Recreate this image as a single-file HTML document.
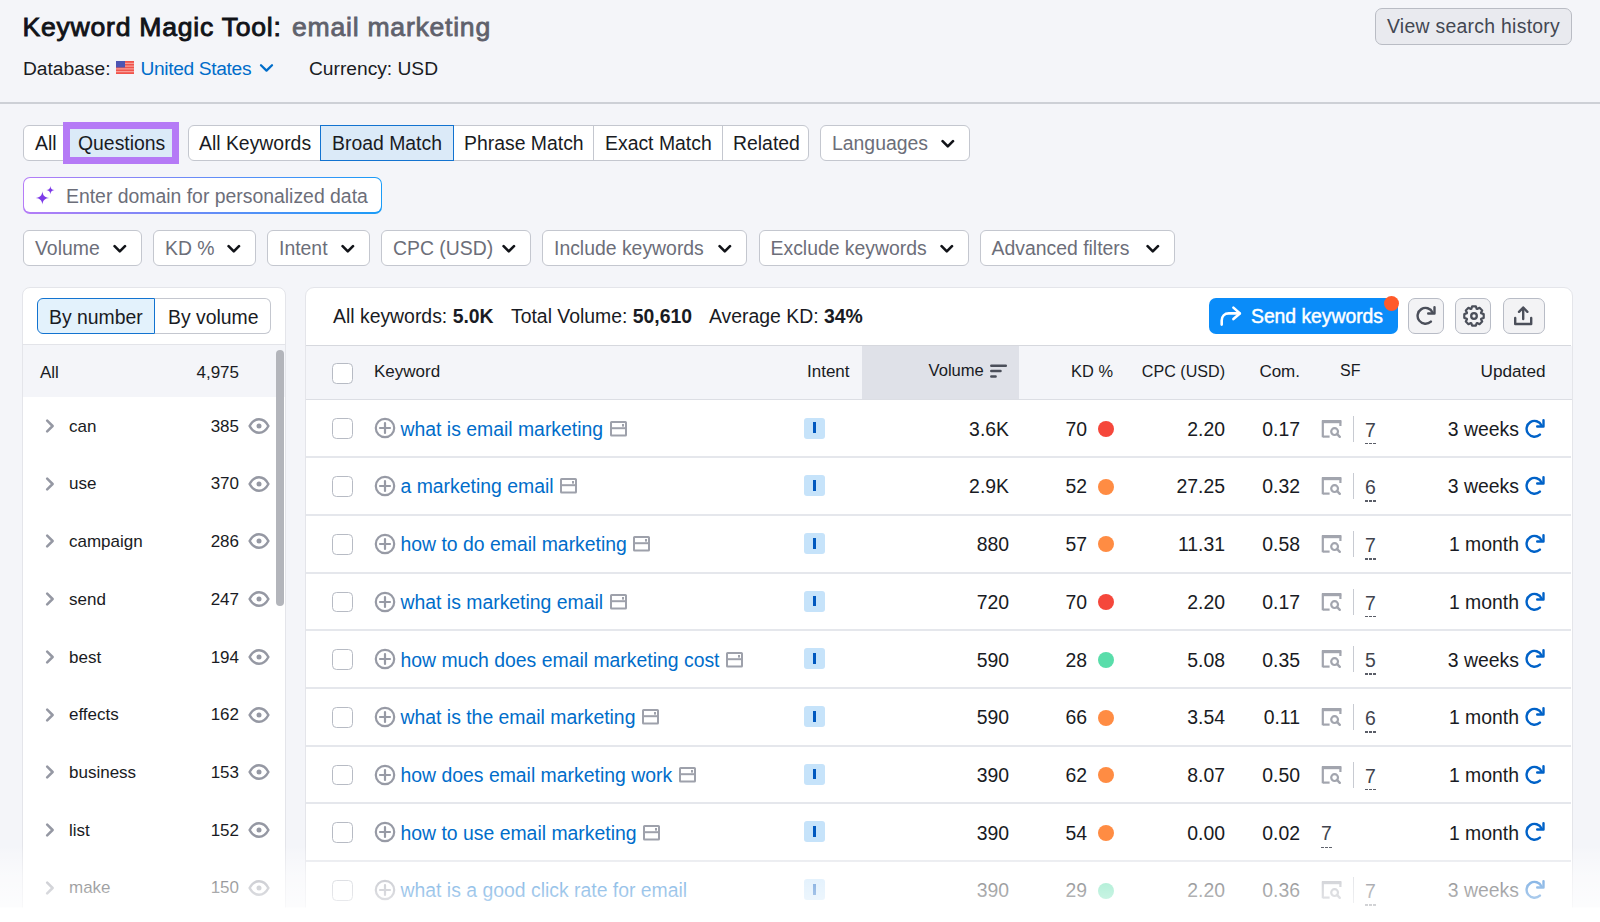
<!DOCTYPE html>
<html><head><meta charset="utf-8">
<style>
*{box-sizing:border-box;margin:0;padding:0}
html,body{width:1600px;height:922px;overflow:hidden;background:#f4f5f9;font-family:"Liberation Sans",sans-serif;color:#191b23}
.abs{position:absolute}
.t{position:absolute;white-space:nowrap;line-height:1}
.btn{position:absolute;border:1px solid #c4c7cf;background:#fff;border-radius:6px}
.fb{position:absolute;height:36px;border:1px solid #c4c7cf;background:#fff;border-radius:6px;color:#6c6e79;font-size:19.4px}
.fb span{position:absolute;left:11px;top:7px;line-height:20px;white-space:nowrap}
.fb svg{position:absolute;top:13px;right:14px}
</style></head>
<body>

<div class="t" style="left:22.5px;top:14px;font-size:26.6px;color:#111318;letter-spacing:0.75px;-webkit-text-stroke:0.9px #111318">Keyword Magic Tool:</div>
<div class="t" style="left:292px;top:14px;font-size:26.6px;color:#5f616c;letter-spacing:0.75px;-webkit-text-stroke:0.8px #5f616c">email marketing</div>
<div class="t" style="left:23px;top:59px;font-size:19.2px;">Database:</div>
<svg class="abs" style="left:116px;top:61px" width="18" height="13" viewBox="0 0 18 13">
<rect width="18" height="13" fill="#f0544c"/>
<rect y="1.8" width="18" height="1" fill="#fab0ab"/><rect y="4.6" width="18" height="1" fill="#fab0ab"/><rect y="7.4" width="18" height="1" fill="#fab0ab"/><rect y="10.2" width="18" height="1" fill="#fab0ab"/>
<rect width="9" height="6.5" fill="#4d55b3"/>
</svg>
<div class="t" style="left:140.5px;top:59px;font-size:19.2px;color:#006dca;letter-spacing:-0.35px">United States</div>
<svg class="abs" style="left:259px;top:63px" width="15" height="10" viewBox="0 0 15 10"><path d="M2 2.2 L7.5 7.6 L13 2.2" fill="none" stroke="#006dca" stroke-width="2.3" stroke-linecap="round" stroke-linejoin="round"/></svg>
<div class="t" style="left:309px;top:59px;font-size:19.2px;">Currency: USD</div>
<div class="abs" style="left:1375px;top:8px;width:197px;height:37px;border:1px solid #b9bcc4;border-radius:7px;background:#e9eaef"></div>
<div class="t" style="left:1387px;top:17px;font-size:19.4px;color:#434752;letter-spacing:0.28px">View search history</div>
<div class="abs" style="left:0;top:102px;width:1600px;height:2px;background:#cdd0d6"></div>
<div class="btn" style="left:23px;top:125px;width:150px;height:36px"></div>
<div class="t" style="left:35px;top:134.4px;font-size:19.4px;">All</div>
<div class="abs" style="left:63px;top:121.5px;width:116px;height:42px;border:7px solid #b57af6;background:#dbeaf8"></div>
<div class="t" style="left:78px;top:134.4px;font-size:19.4px;">Questions</div>
<div class="btn" style="left:187.5px;top:125px;width:621.5px;height:36px"></div>
<div class="t" style="left:199px;top:134.4px;font-size:19.4px;">All Keywords</div>
<div class="abs" style="left:320.3px;top:125px;width:133.6px;height:36px;border:1.5px solid #1273d0;background:#dbeaf8"></div>
<div class="t" style="left:332px;top:134.4px;font-size:19.4px;">Broad Match</div>
<div class="t" style="left:464px;top:134.4px;font-size:19.4px;">Phrase Match</div>
<div class="abs" style="left:593px;top:125px;width:1px;height:36px;background:#c4c7cf"></div>
<div class="t" style="left:605px;top:134.4px;font-size:19.4px;">Exact Match</div>
<div class="abs" style="left:722px;top:125px;width:1px;height:36px;background:#c4c7cf"></div>
<div class="t" style="left:733px;top:134.4px;font-size:19.4px;">Related</div>
<div class="fb" style="left:820px;top:125px;width:149.5px"><span>Languages</span><svg width="14" height="10" viewBox="0 0 14 10"><path d="M1.6 2.2 L6.8 7.4 L12 2.2" fill="none" stroke="#111318" stroke-width="2.6" stroke-linecap="round" stroke-linejoin="round"/></svg></div>
<div class="abs" style="left:23px;top:177px;width:359px;height:36.5px;border-radius:7px;background:linear-gradient(90deg,#b57cf7,#1a9cf7);padding:1.3px">
<div style="width:100%;height:100%;background:#fff;border-radius:6px"></div></div>
<svg class="abs" style="left:30px;top:180px" width="32" height="32" viewBox="0 0 32 32"><path d="M12.40,11.20 C12.80,15.49 14.81,17.50 19.10,17.90 C14.81,18.30 12.80,20.31 12.40,24.60 C12.00,20.31 9.99,18.30 5.70,17.90 C9.99,17.50 12.00,15.49 12.40,11.20Z M20.40,6.00 C20.65,8.62 21.88,9.85 24.50,10.10 C21.88,10.35 20.65,11.58 20.40,14.20 C20.15,11.58 18.92,10.35 16.30,10.10 C18.92,9.85 20.15,8.62 20.40,6.00Z" fill="#7d3ae8"/></svg>
<div class="t" style="left:66px;top:187px;font-size:19.4px;color:#6c6e79;">Enter domain for personalized data</div>
<div class="fb" style="left:23px;top:230px;width:118.6px"><span>Volume</span><svg width="14" height="10" viewBox="0 0 14 10"><path d="M1.6 2.2 L6.8 7.4 L12 2.2" fill="none" stroke="#111318" stroke-width="2.6" stroke-linecap="round" stroke-linejoin="round"/></svg></div>
<div class="fb" style="left:153px;top:230px;width:102.6px"><span>KD %</span><svg width="14" height="10" viewBox="0 0 14 10"><path d="M1.6 2.2 L6.8 7.4 L12 2.2" fill="none" stroke="#111318" stroke-width="2.6" stroke-linecap="round" stroke-linejoin="round"/></svg></div>
<div class="fb" style="left:267px;top:230px;width:103.1px"><span>Intent</span><svg width="14" height="10" viewBox="0 0 14 10"><path d="M1.6 2.2 L6.8 7.4 L12 2.2" fill="none" stroke="#111318" stroke-width="2.6" stroke-linecap="round" stroke-linejoin="round"/></svg></div>
<div class="fb" style="left:381px;top:230px;width:149.8px"><span>CPC (USD)</span><svg width="14" height="10" viewBox="0 0 14 10"><path d="M1.6 2.2 L6.8 7.4 L12 2.2" fill="none" stroke="#111318" stroke-width="2.6" stroke-linecap="round" stroke-linejoin="round"/></svg></div>
<div class="fb" style="left:542px;top:230px;width:205.4px"><span>Include keywords</span><svg width="14" height="10" viewBox="0 0 14 10"><path d="M1.6 2.2 L6.8 7.4 L12 2.2" fill="none" stroke="#111318" stroke-width="2.6" stroke-linecap="round" stroke-linejoin="round"/></svg></div>
<div class="fb" style="left:758.5px;top:230px;width:210.1px"><span>Exclude keywords</span><svg width="14" height="10" viewBox="0 0 14 10"><path d="M1.6 2.2 L6.8 7.4 L12 2.2" fill="none" stroke="#111318" stroke-width="2.6" stroke-linecap="round" stroke-linejoin="round"/></svg></div>
<div class="fb" style="left:979.5px;top:230px;width:195px"><span>Advanced filters</span><svg width="14" height="10" viewBox="0 0 14 10"><path d="M1.6 2.2 L6.8 7.4 L12 2.2" fill="none" stroke="#111318" stroke-width="2.6" stroke-linecap="round" stroke-linejoin="round"/></svg></div>
<div class="abs" style="left:22px;top:286.5px;width:263.5px;height:700px;background:#fff;border:1px solid #e4e5ea;border-radius:8px;overflow:hidden"></div>
<div class="abs" style="left:155px;top:298px;width:116px;height:36px;border:1px solid #c4c7cf;border-left:none;border-radius:0 6px 6px 0;background:#fff"></div>
<div class="abs" style="left:37px;top:298px;width:118px;height:36px;border:1.5px solid #1273d0;border-radius:6px 0 0 6px;background:#e3f2fc"></div>
<div class="t" style="left:49px;top:308px;font-size:19.4px;">By number</div>
<div class="t" style="left:168px;top:308px;font-size:19.4px;">By volume</div>
<div class="abs" style="left:23px;top:344px;width:262px;height:1px;background:#e3e4e9"></div>
<div class="abs" style="left:23px;top:345px;width:262px;height:52px;background:#f4f5f9"></div>
<div class="t" style="left:40px;top:364px;font-size:17px;">All</div>
<div class="t" style="right:1361px;top:364px;font-size:17px;">4,975</div>
<div class="abs" style="left:276px;top:350px;width:7.5px;height:256px;background:#b3b5bb;border-radius:4px"></div>
<div class="abs" style="left:45px;top:419.0px"><svg width="10" height="14" viewBox="0 0 10 14"><path d="M2.2 1.6 L7.6 7 L2.2 12.4" fill="none" stroke="#9598a3" stroke-width="2.5" stroke-linecap="round" stroke-linejoin="round"/></svg></div>
<div class="t" style="left:69px;top:417.7px;font-size:17px;">can</div>
<div class="t" style="right:1361px;top:417.7px;font-size:17px;">385</div>
<div class="abs" style="left:248px;top:418.0px"><svg width="22" height="16" viewBox="0 0 22 16"><path d="M1.6 8 C4 3.4 7.3 1.3 11 1.3 C14.7 1.3 18 3.4 20.4 8 C18 12.6 14.7 14.7 11 14.7 C7.3 14.7 4 12.6 1.6 8Z" fill="none" stroke="#9598a3" stroke-width="2.4"/><circle cx="11" cy="8" r="2.5" fill="#9598a3"/></svg></div>
<div class="abs" style="left:45px;top:476.7px"><svg width="10" height="14" viewBox="0 0 10 14"><path d="M2.2 1.6 L7.6 7 L2.2 12.4" fill="none" stroke="#9598a3" stroke-width="2.5" stroke-linecap="round" stroke-linejoin="round"/></svg></div>
<div class="t" style="left:69px;top:475.4px;font-size:17px;">use</div>
<div class="t" style="right:1361px;top:475.4px;font-size:17px;">370</div>
<div class="abs" style="left:248px;top:475.7px"><svg width="22" height="16" viewBox="0 0 22 16"><path d="M1.6 8 C4 3.4 7.3 1.3 11 1.3 C14.7 1.3 18 3.4 20.4 8 C18 12.6 14.7 14.7 11 14.7 C7.3 14.7 4 12.6 1.6 8Z" fill="none" stroke="#9598a3" stroke-width="2.4"/><circle cx="11" cy="8" r="2.5" fill="#9598a3"/></svg></div>
<div class="abs" style="left:45px;top:534.4px"><svg width="10" height="14" viewBox="0 0 10 14"><path d="M2.2 1.6 L7.6 7 L2.2 12.4" fill="none" stroke="#9598a3" stroke-width="2.5" stroke-linecap="round" stroke-linejoin="round"/></svg></div>
<div class="t" style="left:69px;top:533.1px;font-size:17px;">campaign</div>
<div class="t" style="right:1361px;top:533.1px;font-size:17px;">286</div>
<div class="abs" style="left:248px;top:533.4px"><svg width="22" height="16" viewBox="0 0 22 16"><path d="M1.6 8 C4 3.4 7.3 1.3 11 1.3 C14.7 1.3 18 3.4 20.4 8 C18 12.6 14.7 14.7 11 14.7 C7.3 14.7 4 12.6 1.6 8Z" fill="none" stroke="#9598a3" stroke-width="2.4"/><circle cx="11" cy="8" r="2.5" fill="#9598a3"/></svg></div>
<div class="abs" style="left:45px;top:592.1px"><svg width="10" height="14" viewBox="0 0 10 14"><path d="M2.2 1.6 L7.6 7 L2.2 12.4" fill="none" stroke="#9598a3" stroke-width="2.5" stroke-linecap="round" stroke-linejoin="round"/></svg></div>
<div class="t" style="left:69px;top:590.8px;font-size:17px;">send</div>
<div class="t" style="right:1361px;top:590.8px;font-size:17px;">247</div>
<div class="abs" style="left:248px;top:591.1px"><svg width="22" height="16" viewBox="0 0 22 16"><path d="M1.6 8 C4 3.4 7.3 1.3 11 1.3 C14.7 1.3 18 3.4 20.4 8 C18 12.6 14.7 14.7 11 14.7 C7.3 14.7 4 12.6 1.6 8Z" fill="none" stroke="#9598a3" stroke-width="2.4"/><circle cx="11" cy="8" r="2.5" fill="#9598a3"/></svg></div>
<div class="abs" style="left:45px;top:649.8px"><svg width="10" height="14" viewBox="0 0 10 14"><path d="M2.2 1.6 L7.6 7 L2.2 12.4" fill="none" stroke="#9598a3" stroke-width="2.5" stroke-linecap="round" stroke-linejoin="round"/></svg></div>
<div class="t" style="left:69px;top:648.5px;font-size:17px;">best</div>
<div class="t" style="right:1361px;top:648.5px;font-size:17px;">194</div>
<div class="abs" style="left:248px;top:648.8px"><svg width="22" height="16" viewBox="0 0 22 16"><path d="M1.6 8 C4 3.4 7.3 1.3 11 1.3 C14.7 1.3 18 3.4 20.4 8 C18 12.6 14.7 14.7 11 14.7 C7.3 14.7 4 12.6 1.6 8Z" fill="none" stroke="#9598a3" stroke-width="2.4"/><circle cx="11" cy="8" r="2.5" fill="#9598a3"/></svg></div>
<div class="abs" style="left:45px;top:707.5px"><svg width="10" height="14" viewBox="0 0 10 14"><path d="M2.2 1.6 L7.6 7 L2.2 12.4" fill="none" stroke="#9598a3" stroke-width="2.5" stroke-linecap="round" stroke-linejoin="round"/></svg></div>
<div class="t" style="left:69px;top:706.2px;font-size:17px;">effects</div>
<div class="t" style="right:1361px;top:706.2px;font-size:17px;">162</div>
<div class="abs" style="left:248px;top:706.5px"><svg width="22" height="16" viewBox="0 0 22 16"><path d="M1.6 8 C4 3.4 7.3 1.3 11 1.3 C14.7 1.3 18 3.4 20.4 8 C18 12.6 14.7 14.7 11 14.7 C7.3 14.7 4 12.6 1.6 8Z" fill="none" stroke="#9598a3" stroke-width="2.4"/><circle cx="11" cy="8" r="2.5" fill="#9598a3"/></svg></div>
<div class="abs" style="left:45px;top:765.2px"><svg width="10" height="14" viewBox="0 0 10 14"><path d="M2.2 1.6 L7.6 7 L2.2 12.4" fill="none" stroke="#9598a3" stroke-width="2.5" stroke-linecap="round" stroke-linejoin="round"/></svg></div>
<div class="t" style="left:69px;top:763.9px;font-size:17px;">business</div>
<div class="t" style="right:1361px;top:763.9px;font-size:17px;">153</div>
<div class="abs" style="left:248px;top:764.2px"><svg width="22" height="16" viewBox="0 0 22 16"><path d="M1.6 8 C4 3.4 7.3 1.3 11 1.3 C14.7 1.3 18 3.4 20.4 8 C18 12.6 14.7 14.7 11 14.7 C7.3 14.7 4 12.6 1.6 8Z" fill="none" stroke="#9598a3" stroke-width="2.4"/><circle cx="11" cy="8" r="2.5" fill="#9598a3"/></svg></div>
<div class="abs" style="left:45px;top:822.9px"><svg width="10" height="14" viewBox="0 0 10 14"><path d="M2.2 1.6 L7.6 7 L2.2 12.4" fill="none" stroke="#9598a3" stroke-width="2.5" stroke-linecap="round" stroke-linejoin="round"/></svg></div>
<div class="t" style="left:69px;top:821.6px;font-size:17px;">list</div>
<div class="t" style="right:1361px;top:821.6px;font-size:17px;">152</div>
<div class="abs" style="left:248px;top:821.9px"><svg width="22" height="16" viewBox="0 0 22 16"><path d="M1.6 8 C4 3.4 7.3 1.3 11 1.3 C14.7 1.3 18 3.4 20.4 8 C18 12.6 14.7 14.7 11 14.7 C7.3 14.7 4 12.6 1.6 8Z" fill="none" stroke="#9598a3" stroke-width="2.4"/><circle cx="11" cy="8" r="2.5" fill="#9598a3"/></svg></div>
<div class="abs" style="left:45px;top:880.6px"><svg width="10" height="14" viewBox="0 0 10 14"><path d="M2.2 1.6 L7.6 7 L2.2 12.4" fill="none" stroke="#9598a3" stroke-width="2.5" stroke-linecap="round" stroke-linejoin="round"/></svg></div>
<div class="t" style="left:69px;top:879.3px;font-size:17px;">make</div>
<div class="t" style="right:1361px;top:879.3px;font-size:17px;">150</div>
<div class="abs" style="left:248px;top:879.6px"><svg width="22" height="16" viewBox="0 0 22 16"><path d="M1.6 8 C4 3.4 7.3 1.3 11 1.3 C14.7 1.3 18 3.4 20.4 8 C18 12.6 14.7 14.7 11 14.7 C7.3 14.7 4 12.6 1.6 8Z" fill="none" stroke="#9598a3" stroke-width="2.4"/><circle cx="11" cy="8" r="2.5" fill="#9598a3"/></svg></div>
<div class="abs" style="left:305px;top:286.5px;width:1267.5px;height:700px;background:#fff;border:1px solid #e4e5ea;border-radius:9px;overflow:hidden"></div>
<div class="t" style="left:333px;top:307px;font-size:19.4px;">All keywords: <b>5.0K</b></div>
<div class="t" style="left:511px;top:307px;font-size:19.4px;">Total Volume: <b>50,610</b></div>
<div class="t" style="left:709px;top:307px;font-size:19.4px;">Average KD: <b>34%</b></div>
<div class="abs" style="left:1209px;top:298px;width:188.5px;height:36px;background:#0a8cf9;border-radius:7px"></div>
<svg class="abs" style="left:1218px;top:302px" width="26" height="26" viewBox="0 0 26 26"><path d="M3.7 22.6 V18.5 C3.7 14.2 6.6 11.4 10.8 11.4 H21.5" fill="none" stroke="#fff" stroke-width="2.6" stroke-linecap="round"/><path d="M15.4 5.6 L21.9 11.4 L15.4 17.1" fill="none" stroke="#fff" stroke-width="2.6" stroke-linecap="round" stroke-linejoin="round"/></svg>
<div class="t" style="left:1251px;top:307px;font-size:19.4px;color:#fff;letter-spacing:-0.05px;-webkit-text-stroke:0.45px #fff">Send keywords</div>
<div class="abs" style="left:1384px;top:295.5px;width:15px;height:15px;border-radius:50%;background:#ff5a2a"></div>
<div class="abs" style="left:1408px;top:298px;width:36px;height:36px;border:1px solid #b8bcc6;border-radius:7px;background:#f3f3f5"></div>
<div class="abs" style="left:1455px;top:298px;width:36px;height:36px;border:1px solid #b8bcc6;border-radius:7px;background:#f3f3f5"></div>
<div class="abs" style="left:1502.5px;top:298px;width:42.5px;height:36px;border:1px solid #b8bcc6;border-radius:7px;background:#f3f3f5"></div>
<svg class="abs" style="left:1416.3px;top:305.7px" width="20" height="21" viewBox="0 0 20 21"><path d="M14.9 15.6 A7.9 7.9 0 1 1 16.6 6.4" fill="none" stroke="#4b4f5a" stroke-width="2.4" stroke-linecap="round"/><path d="M18.5 1.3 V7.5 H12.2" fill="none" stroke="#4b4f5a" stroke-width="2.4" stroke-linecap="round" stroke-linejoin="round"/></svg>
<svg class="abs" style="left:1461.5px;top:304px" width="24" height="24" viewBox="0 0 24 24"><polygon points="10.13,2.28 13.87,2.28 14.71,4.79 15.18,4.99 17.55,3.80 20.20,6.45 19.01,8.82 19.21,9.29 21.72,10.13 21.72,13.87 19.21,14.71 19.01,15.18 20.20,17.55 17.55,20.20 15.18,19.01 14.71,19.21 13.87,21.72 10.13,21.72 9.29,19.21 8.82,19.01 6.45,20.20 3.80,17.55 4.99,15.18 4.79,14.71 2.28,13.87 2.28,10.13 4.79,9.29 4.99,8.82 3.80,6.45 6.45,3.80 8.82,4.99 9.29,4.79" fill="none" stroke="#4b4f5a" stroke-width="2.2" stroke-linejoin="round"/><circle cx="12" cy="12" r="2.8" fill="none" stroke="#4b4f5a" stroke-width="2.3"/></svg>
<svg class="abs" style="left:1512px;top:304px" width="24" height="24" viewBox="0 0 24 24"><path d="M11.2 15 V4" fill="none" stroke="#4b4f5a" stroke-width="2.4" stroke-linecap="round"/><path d="M7 7.8 L11.2 3.6 L15.4 7.8" fill="none" stroke="#4b4f5a" stroke-width="2.4" stroke-linecap="round" stroke-linejoin="round"/><path d="M3.2 14 V20 H19.2 V14" fill="none" stroke="#4b4f5a" stroke-width="2.4" stroke-linecap="round" stroke-linejoin="round"/></svg>
<div class="abs" style="left:306px;top:345px;width:1265px;height:1px;background:#d6d8de"></div>
<div class="abs" style="left:306px;top:346px;width:1266px;height:54px;background:#f4f5f9;border-bottom:1.2px solid #dcdee4"></div>
<div class="abs" style="left:862.3px;top:346px;width:157px;height:52.8px;background:#dfe1e8"></div>
<div class="abs" style="left:332.2px;top:363.2px;width:20.8px;height:20.8px;border:1.6px solid #b7bbc4;border-radius:4.5px;background:#fff"></div>
<div class="t" style="left:374px;top:363px;font-size:17px;">Keyword</div>
<div class="t" style="left:807px;top:363px;font-size:17px;">Intent</div>
<div class="t" style="left:928.5px;top:363px;font-size:16.6px;">Volume</div>
<svg class="abs" style="left:989px;top:363px" width="19" height="16" viewBox="0 0 19 16"><path d="M2.3 2.8 H16.8 M2.3 8.1 H11.5 M2.3 13.4 H6.6" fill="none" stroke="#4b4f5a" stroke-width="2.5" stroke-linecap="round"/></svg>
<div class="t" style="right:487px;top:363px;font-size:16.4px;">KD %</div>
<div class="t" style="right:375px;top:363px;font-size:16.1px;">CPC (USD)</div>
<div class="t" style="right:300px;top:363px;font-size:17px;">Com.</div>
<div class="t" style="left:1340px;top:363px;font-size:16px;">SF</div>
<div class="t" style="right:54.5px;top:363px;font-size:17.2px;">Updated</div>
<div class="abs" style="left:306px;top:456px;width:1265px;height:2px;background:#e5e7ec"></div>
<div class="abs" style="left:332.2px;top:418.4px;width:20.8px;height:20.8px;border:1.6px solid #b7bbc4;border-radius:4.5px;background:#fff"></div>
<div class="abs" style="left:373.6px;top:417.4px"><svg width="22" height="22" viewBox="0 0 22 22"><circle cx="11" cy="11" r="9.2" fill="none" stroke="#979aa5" stroke-width="2.2"/><path d="M11 6 V16 M6 11 H16" fill="none" stroke="#979aa5" stroke-width="2.2" stroke-linecap="round"/></svg></div>
<div class="t" style="left:400.5px;top:419.7px;font-size:19.4px;color:#006dca;">what is email marketing<span style="display:inline-block;margin-left:6.5px;vertical-align:-1px"><svg width="18" height="16" viewBox="0 0 18 16"><rect x="1" y="1" width="15" height="13.6" rx="0.6" fill="none" stroke="#9ea1ab" stroke-width="2"/><path d="M1 7.2 H16" stroke="#9ea1ab" stroke-width="2"/><rect x="12" y="3" width="2" height="2.6" fill="#9ea1ab"/></svg></span></div>
<div class="abs" style="left:804px;top:417.5px;width:21px;height:21px;border-radius:3px;background:#c6e3fa"></div>
<div class="abs" style="left:813.4px;top:422.4px;width:2.5px;height:10.8px;background:#0058bf"></div>
<div class="t" style="right:591px;top:419.7px;font-size:19.4px;">3.6K</div>
<div class="t" style="right:513px;top:419.7px;font-size:19.4px;">70</div>
<div class="abs" style="left:1097.8px;top:421.0px;width:16px;height:16px;border-radius:50%;background:#f5473b"></div>
<div class="t" style="right:375px;top:419.7px;font-size:19.4px;">2.20</div>
<div class="t" style="right:300px;top:419.7px;font-size:19.4px;">0.17</div>
<div class="abs" style="left:1320.5px;top:419.5px"><svg width="22" height="19" viewBox="0 0 22 19"><path d="M1.8 17.2 V1.6 H19.4 V6" fill="none" stroke="#a2a5ae" stroke-width="2.2"/><path d="M1 1.6 H20.2" stroke="#a2a5ae" stroke-width="3.2"/><path d="M1.8 16.6 H8.6" stroke="#a2a5ae" stroke-width="2.2"/><circle cx="13.6" cy="11.6" r="3.4" fill="none" stroke="#a2a5ae" stroke-width="2.2"/><path d="M16.2 14.2 L18.8 16.8" stroke="#a2a5ae" stroke-width="2.4" stroke-linecap="round"/></svg></div>
<div class="abs" style="left:1352.5px;top:415.5px;width:1.6px;height:26px;background:#c8cbd2"></div>
<div class="t" style="left:1365px;top:420.5px;font-size:19.4px;color:#41444e;">7</div>
<div class="abs" style="left:1364.5px;top:442.6px;width:11px;height:1.6px;background:repeating-linear-gradient(90deg,#5a5d67 0 2.6px,transparent 2.6px 4.2px)"></div>
<div class="t" style="right:81px;top:419.7px;font-size:19.4px;">3 weeks</div>
<div class="abs" style="left:1525px;top:418.5px"><svg width="20" height="21" viewBox="0 0 20 21"><path d="M14.9 15.6 A7.9 7.9 0 1 1 16.6 6.4" fill="none" stroke="#0062c8" stroke-width="2.4" stroke-linecap="round"/><path d="M18.5 1.3 V7.5 H12.2" fill="none" stroke="#0062c8" stroke-width="2.4" stroke-linecap="round" stroke-linejoin="round"/></svg></div>
<div class="abs" style="left:306px;top:514px;width:1265px;height:2px;background:#e5e7ec"></div>
<div class="abs" style="left:332.2px;top:476.1px;width:20.8px;height:20.8px;border:1.6px solid #b7bbc4;border-radius:4.5px;background:#fff"></div>
<div class="abs" style="left:373.6px;top:475.1px"><svg width="22" height="22" viewBox="0 0 22 22"><circle cx="11" cy="11" r="9.2" fill="none" stroke="#979aa5" stroke-width="2.2"/><path d="M11 6 V16 M6 11 H16" fill="none" stroke="#979aa5" stroke-width="2.2" stroke-linecap="round"/></svg></div>
<div class="t" style="left:400.5px;top:477.4px;font-size:19.4px;color:#006dca;">a marketing email<span style="display:inline-block;margin-left:6.5px;vertical-align:-1px"><svg width="18" height="16" viewBox="0 0 18 16"><rect x="1" y="1" width="15" height="13.6" rx="0.6" fill="none" stroke="#9ea1ab" stroke-width="2"/><path d="M1 7.2 H16" stroke="#9ea1ab" stroke-width="2"/><rect x="12" y="3" width="2" height="2.6" fill="#9ea1ab"/></svg></span></div>
<div class="abs" style="left:804px;top:475.2px;width:21px;height:21px;border-radius:3px;background:#c6e3fa"></div>
<div class="abs" style="left:813.4px;top:480.1px;width:2.5px;height:10.8px;background:#0058bf"></div>
<div class="t" style="right:591px;top:477.4px;font-size:19.4px;">2.9K</div>
<div class="t" style="right:513px;top:477.4px;font-size:19.4px;">52</div>
<div class="abs" style="left:1097.8px;top:478.7px;width:16px;height:16px;border-radius:50%;background:#ff8c43"></div>
<div class="t" style="right:375px;top:477.4px;font-size:19.4px;">27.25</div>
<div class="t" style="right:300px;top:477.4px;font-size:19.4px;">0.32</div>
<div class="abs" style="left:1320.5px;top:477.2px"><svg width="22" height="19" viewBox="0 0 22 19"><path d="M1.8 17.2 V1.6 H19.4 V6" fill="none" stroke="#a2a5ae" stroke-width="2.2"/><path d="M1 1.6 H20.2" stroke="#a2a5ae" stroke-width="3.2"/><path d="M1.8 16.6 H8.6" stroke="#a2a5ae" stroke-width="2.2"/><circle cx="13.6" cy="11.6" r="3.4" fill="none" stroke="#a2a5ae" stroke-width="2.2"/><path d="M16.2 14.2 L18.8 16.8" stroke="#a2a5ae" stroke-width="2.4" stroke-linecap="round"/></svg></div>
<div class="abs" style="left:1352.5px;top:473.2px;width:1.6px;height:26px;background:#c8cbd2"></div>
<div class="t" style="left:1365px;top:478.2px;font-size:19.4px;color:#41444e;">6</div>
<div class="abs" style="left:1364.5px;top:500.3px;width:11px;height:1.6px;background:repeating-linear-gradient(90deg,#5a5d67 0 2.6px,transparent 2.6px 4.2px)"></div>
<div class="t" style="right:81px;top:477.4px;font-size:19.4px;">3 weeks</div>
<div class="abs" style="left:1525px;top:476.2px"><svg width="20" height="21" viewBox="0 0 20 21"><path d="M14.9 15.6 A7.9 7.9 0 1 1 16.6 6.4" fill="none" stroke="#0062c8" stroke-width="2.4" stroke-linecap="round"/><path d="M18.5 1.3 V7.5 H12.2" fill="none" stroke="#0062c8" stroke-width="2.4" stroke-linecap="round" stroke-linejoin="round"/></svg></div>
<div class="abs" style="left:306px;top:572px;width:1265px;height:2px;background:#e5e7ec"></div>
<div class="abs" style="left:332.2px;top:533.8px;width:20.8px;height:20.8px;border:1.6px solid #b7bbc4;border-radius:4.5px;background:#fff"></div>
<div class="abs" style="left:373.6px;top:532.8px"><svg width="22" height="22" viewBox="0 0 22 22"><circle cx="11" cy="11" r="9.2" fill="none" stroke="#979aa5" stroke-width="2.2"/><path d="M11 6 V16 M6 11 H16" fill="none" stroke="#979aa5" stroke-width="2.2" stroke-linecap="round"/></svg></div>
<div class="t" style="left:400.5px;top:535.1px;font-size:19.4px;color:#006dca;">how to do email marketing<span style="display:inline-block;margin-left:6.5px;vertical-align:-1px"><svg width="18" height="16" viewBox="0 0 18 16"><rect x="1" y="1" width="15" height="13.6" rx="0.6" fill="none" stroke="#9ea1ab" stroke-width="2"/><path d="M1 7.2 H16" stroke="#9ea1ab" stroke-width="2"/><rect x="12" y="3" width="2" height="2.6" fill="#9ea1ab"/></svg></span></div>
<div class="abs" style="left:804px;top:532.9px;width:21px;height:21px;border-radius:3px;background:#c6e3fa"></div>
<div class="abs" style="left:813.4px;top:537.8px;width:2.5px;height:10.8px;background:#0058bf"></div>
<div class="t" style="right:591px;top:535.1px;font-size:19.4px;">880</div>
<div class="t" style="right:513px;top:535.1px;font-size:19.4px;">57</div>
<div class="abs" style="left:1097.8px;top:536.4px;width:16px;height:16px;border-radius:50%;background:#ff8c43"></div>
<div class="t" style="right:375px;top:535.1px;font-size:19.4px;">11.31</div>
<div class="t" style="right:300px;top:535.1px;font-size:19.4px;">0.58</div>
<div class="abs" style="left:1320.5px;top:534.9px"><svg width="22" height="19" viewBox="0 0 22 19"><path d="M1.8 17.2 V1.6 H19.4 V6" fill="none" stroke="#a2a5ae" stroke-width="2.2"/><path d="M1 1.6 H20.2" stroke="#a2a5ae" stroke-width="3.2"/><path d="M1.8 16.6 H8.6" stroke="#a2a5ae" stroke-width="2.2"/><circle cx="13.6" cy="11.6" r="3.4" fill="none" stroke="#a2a5ae" stroke-width="2.2"/><path d="M16.2 14.2 L18.8 16.8" stroke="#a2a5ae" stroke-width="2.4" stroke-linecap="round"/></svg></div>
<div class="abs" style="left:1352.5px;top:530.9px;width:1.6px;height:26px;background:#c8cbd2"></div>
<div class="t" style="left:1365px;top:535.9px;font-size:19.4px;color:#41444e;">7</div>
<div class="abs" style="left:1364.5px;top:558.0px;width:11px;height:1.6px;background:repeating-linear-gradient(90deg,#5a5d67 0 2.6px,transparent 2.6px 4.2px)"></div>
<div class="t" style="right:81px;top:535.1px;font-size:19.4px;">1 month</div>
<div class="abs" style="left:1525px;top:533.9px"><svg width="20" height="21" viewBox="0 0 20 21"><path d="M14.9 15.6 A7.9 7.9 0 1 1 16.6 6.4" fill="none" stroke="#0062c8" stroke-width="2.4" stroke-linecap="round"/><path d="M18.5 1.3 V7.5 H12.2" fill="none" stroke="#0062c8" stroke-width="2.4" stroke-linecap="round" stroke-linejoin="round"/></svg></div>
<div class="abs" style="left:306px;top:629px;width:1265px;height:2px;background:#e5e7ec"></div>
<div class="abs" style="left:332.2px;top:591.5px;width:20.8px;height:20.8px;border:1.6px solid #b7bbc4;border-radius:4.5px;background:#fff"></div>
<div class="abs" style="left:373.6px;top:590.5px"><svg width="22" height="22" viewBox="0 0 22 22"><circle cx="11" cy="11" r="9.2" fill="none" stroke="#979aa5" stroke-width="2.2"/><path d="M11 6 V16 M6 11 H16" fill="none" stroke="#979aa5" stroke-width="2.2" stroke-linecap="round"/></svg></div>
<div class="t" style="left:400.5px;top:592.8px;font-size:19.4px;color:#006dca;">what is marketing email<span style="display:inline-block;margin-left:6.5px;vertical-align:-1px"><svg width="18" height="16" viewBox="0 0 18 16"><rect x="1" y="1" width="15" height="13.6" rx="0.6" fill="none" stroke="#9ea1ab" stroke-width="2"/><path d="M1 7.2 H16" stroke="#9ea1ab" stroke-width="2"/><rect x="12" y="3" width="2" height="2.6" fill="#9ea1ab"/></svg></span></div>
<div class="abs" style="left:804px;top:590.6px;width:21px;height:21px;border-radius:3px;background:#c6e3fa"></div>
<div class="abs" style="left:813.4px;top:595.5px;width:2.5px;height:10.8px;background:#0058bf"></div>
<div class="t" style="right:591px;top:592.8px;font-size:19.4px;">720</div>
<div class="t" style="right:513px;top:592.8px;font-size:19.4px;">70</div>
<div class="abs" style="left:1097.8px;top:594.1px;width:16px;height:16px;border-radius:50%;background:#f5473b"></div>
<div class="t" style="right:375px;top:592.8px;font-size:19.4px;">2.20</div>
<div class="t" style="right:300px;top:592.8px;font-size:19.4px;">0.17</div>
<div class="abs" style="left:1320.5px;top:592.6px"><svg width="22" height="19" viewBox="0 0 22 19"><path d="M1.8 17.2 V1.6 H19.4 V6" fill="none" stroke="#a2a5ae" stroke-width="2.2"/><path d="M1 1.6 H20.2" stroke="#a2a5ae" stroke-width="3.2"/><path d="M1.8 16.6 H8.6" stroke="#a2a5ae" stroke-width="2.2"/><circle cx="13.6" cy="11.6" r="3.4" fill="none" stroke="#a2a5ae" stroke-width="2.2"/><path d="M16.2 14.2 L18.8 16.8" stroke="#a2a5ae" stroke-width="2.4" stroke-linecap="round"/></svg></div>
<div class="abs" style="left:1352.5px;top:588.6px;width:1.6px;height:26px;background:#c8cbd2"></div>
<div class="t" style="left:1365px;top:593.6px;font-size:19.4px;color:#41444e;">7</div>
<div class="abs" style="left:1364.5px;top:615.7px;width:11px;height:1.6px;background:repeating-linear-gradient(90deg,#5a5d67 0 2.6px,transparent 2.6px 4.2px)"></div>
<div class="t" style="right:81px;top:592.8px;font-size:19.4px;">1 month</div>
<div class="abs" style="left:1525px;top:591.6px"><svg width="20" height="21" viewBox="0 0 20 21"><path d="M14.9 15.6 A7.9 7.9 0 1 1 16.6 6.4" fill="none" stroke="#0062c8" stroke-width="2.4" stroke-linecap="round"/><path d="M18.5 1.3 V7.5 H12.2" fill="none" stroke="#0062c8" stroke-width="2.4" stroke-linecap="round" stroke-linejoin="round"/></svg></div>
<div class="abs" style="left:306px;top:687px;width:1265px;height:2px;background:#e5e7ec"></div>
<div class="abs" style="left:332.2px;top:649.2px;width:20.8px;height:20.8px;border:1.6px solid #b7bbc4;border-radius:4.5px;background:#fff"></div>
<div class="abs" style="left:373.6px;top:648.2px"><svg width="22" height="22" viewBox="0 0 22 22"><circle cx="11" cy="11" r="9.2" fill="none" stroke="#979aa5" stroke-width="2.2"/><path d="M11 6 V16 M6 11 H16" fill="none" stroke="#979aa5" stroke-width="2.2" stroke-linecap="round"/></svg></div>
<div class="t" style="left:400.5px;top:650.5px;font-size:19.4px;color:#006dca;">how much does email marketing cost<span style="display:inline-block;margin-left:6.5px;vertical-align:-1px"><svg width="18" height="16" viewBox="0 0 18 16"><rect x="1" y="1" width="15" height="13.6" rx="0.6" fill="none" stroke="#9ea1ab" stroke-width="2"/><path d="M1 7.2 H16" stroke="#9ea1ab" stroke-width="2"/><rect x="12" y="3" width="2" height="2.6" fill="#9ea1ab"/></svg></span></div>
<div class="abs" style="left:804px;top:648.3px;width:21px;height:21px;border-radius:3px;background:#c6e3fa"></div>
<div class="abs" style="left:813.4px;top:653.2px;width:2.5px;height:10.8px;background:#0058bf"></div>
<div class="t" style="right:591px;top:650.5px;font-size:19.4px;">590</div>
<div class="t" style="right:513px;top:650.5px;font-size:19.4px;">28</div>
<div class="abs" style="left:1097.8px;top:651.8px;width:16px;height:16px;border-radius:50%;background:#59ddaa"></div>
<div class="t" style="right:375px;top:650.5px;font-size:19.4px;">5.08</div>
<div class="t" style="right:300px;top:650.5px;font-size:19.4px;">0.35</div>
<div class="abs" style="left:1320.5px;top:650.3px"><svg width="22" height="19" viewBox="0 0 22 19"><path d="M1.8 17.2 V1.6 H19.4 V6" fill="none" stroke="#a2a5ae" stroke-width="2.2"/><path d="M1 1.6 H20.2" stroke="#a2a5ae" stroke-width="3.2"/><path d="M1.8 16.6 H8.6" stroke="#a2a5ae" stroke-width="2.2"/><circle cx="13.6" cy="11.6" r="3.4" fill="none" stroke="#a2a5ae" stroke-width="2.2"/><path d="M16.2 14.2 L18.8 16.8" stroke="#a2a5ae" stroke-width="2.4" stroke-linecap="round"/></svg></div>
<div class="abs" style="left:1352.5px;top:646.3px;width:1.6px;height:26px;background:#c8cbd2"></div>
<div class="t" style="left:1365px;top:651.3px;font-size:19.4px;color:#41444e;">5</div>
<div class="abs" style="left:1364.5px;top:673.4px;width:11px;height:1.6px;background:repeating-linear-gradient(90deg,#5a5d67 0 2.6px,transparent 2.6px 4.2px)"></div>
<div class="t" style="right:81px;top:650.5px;font-size:19.4px;">3 weeks</div>
<div class="abs" style="left:1525px;top:649.3px"><svg width="20" height="21" viewBox="0 0 20 21"><path d="M14.9 15.6 A7.9 7.9 0 1 1 16.6 6.4" fill="none" stroke="#0062c8" stroke-width="2.4" stroke-linecap="round"/><path d="M18.5 1.3 V7.5 H12.2" fill="none" stroke="#0062c8" stroke-width="2.4" stroke-linecap="round" stroke-linejoin="round"/></svg></div>
<div class="abs" style="left:306px;top:745px;width:1265px;height:2px;background:#e5e7ec"></div>
<div class="abs" style="left:332.2px;top:706.9px;width:20.8px;height:20.8px;border:1.6px solid #b7bbc4;border-radius:4.5px;background:#fff"></div>
<div class="abs" style="left:373.6px;top:705.9px"><svg width="22" height="22" viewBox="0 0 22 22"><circle cx="11" cy="11" r="9.2" fill="none" stroke="#979aa5" stroke-width="2.2"/><path d="M11 6 V16 M6 11 H16" fill="none" stroke="#979aa5" stroke-width="2.2" stroke-linecap="round"/></svg></div>
<div class="t" style="left:400.5px;top:708.2px;font-size:19.4px;color:#006dca;">what is the email marketing<span style="display:inline-block;margin-left:6.5px;vertical-align:-1px"><svg width="18" height="16" viewBox="0 0 18 16"><rect x="1" y="1" width="15" height="13.6" rx="0.6" fill="none" stroke="#9ea1ab" stroke-width="2"/><path d="M1 7.2 H16" stroke="#9ea1ab" stroke-width="2"/><rect x="12" y="3" width="2" height="2.6" fill="#9ea1ab"/></svg></span></div>
<div class="abs" style="left:804px;top:706.0px;width:21px;height:21px;border-radius:3px;background:#c6e3fa"></div>
<div class="abs" style="left:813.4px;top:710.9px;width:2.5px;height:10.8px;background:#0058bf"></div>
<div class="t" style="right:591px;top:708.2px;font-size:19.4px;">590</div>
<div class="t" style="right:513px;top:708.2px;font-size:19.4px;">66</div>
<div class="abs" style="left:1097.8px;top:709.5px;width:16px;height:16px;border-radius:50%;background:#ff8c43"></div>
<div class="t" style="right:375px;top:708.2px;font-size:19.4px;">3.54</div>
<div class="t" style="right:300px;top:708.2px;font-size:19.4px;">0.11</div>
<div class="abs" style="left:1320.5px;top:708.0px"><svg width="22" height="19" viewBox="0 0 22 19"><path d="M1.8 17.2 V1.6 H19.4 V6" fill="none" stroke="#a2a5ae" stroke-width="2.2"/><path d="M1 1.6 H20.2" stroke="#a2a5ae" stroke-width="3.2"/><path d="M1.8 16.6 H8.6" stroke="#a2a5ae" stroke-width="2.2"/><circle cx="13.6" cy="11.6" r="3.4" fill="none" stroke="#a2a5ae" stroke-width="2.2"/><path d="M16.2 14.2 L18.8 16.8" stroke="#a2a5ae" stroke-width="2.4" stroke-linecap="round"/></svg></div>
<div class="abs" style="left:1352.5px;top:704.0px;width:1.6px;height:26px;background:#c8cbd2"></div>
<div class="t" style="left:1365px;top:709.0px;font-size:19.4px;color:#41444e;">6</div>
<div class="abs" style="left:1364.5px;top:731.1px;width:11px;height:1.6px;background:repeating-linear-gradient(90deg,#5a5d67 0 2.6px,transparent 2.6px 4.2px)"></div>
<div class="t" style="right:81px;top:708.2px;font-size:19.4px;">1 month</div>
<div class="abs" style="left:1525px;top:707.0px"><svg width="20" height="21" viewBox="0 0 20 21"><path d="M14.9 15.6 A7.9 7.9 0 1 1 16.6 6.4" fill="none" stroke="#0062c8" stroke-width="2.4" stroke-linecap="round"/><path d="M18.5 1.3 V7.5 H12.2" fill="none" stroke="#0062c8" stroke-width="2.4" stroke-linecap="round" stroke-linejoin="round"/></svg></div>
<div class="abs" style="left:306px;top:802px;width:1265px;height:2px;background:#e5e7ec"></div>
<div class="abs" style="left:332.2px;top:764.6px;width:20.8px;height:20.8px;border:1.6px solid #b7bbc4;border-radius:4.5px;background:#fff"></div>
<div class="abs" style="left:373.6px;top:763.6px"><svg width="22" height="22" viewBox="0 0 22 22"><circle cx="11" cy="11" r="9.2" fill="none" stroke="#979aa5" stroke-width="2.2"/><path d="M11 6 V16 M6 11 H16" fill="none" stroke="#979aa5" stroke-width="2.2" stroke-linecap="round"/></svg></div>
<div class="t" style="left:400.5px;top:765.9px;font-size:19.4px;color:#006dca;">how does email marketing work<span style="display:inline-block;margin-left:6.5px;vertical-align:-1px"><svg width="18" height="16" viewBox="0 0 18 16"><rect x="1" y="1" width="15" height="13.6" rx="0.6" fill="none" stroke="#9ea1ab" stroke-width="2"/><path d="M1 7.2 H16" stroke="#9ea1ab" stroke-width="2"/><rect x="12" y="3" width="2" height="2.6" fill="#9ea1ab"/></svg></span></div>
<div class="abs" style="left:804px;top:763.7px;width:21px;height:21px;border-radius:3px;background:#c6e3fa"></div>
<div class="abs" style="left:813.4px;top:768.6px;width:2.5px;height:10.8px;background:#0058bf"></div>
<div class="t" style="right:591px;top:765.9px;font-size:19.4px;">390</div>
<div class="t" style="right:513px;top:765.9px;font-size:19.4px;">62</div>
<div class="abs" style="left:1097.8px;top:767.2px;width:16px;height:16px;border-radius:50%;background:#ff8c43"></div>
<div class="t" style="right:375px;top:765.9px;font-size:19.4px;">8.07</div>
<div class="t" style="right:300px;top:765.9px;font-size:19.4px;">0.50</div>
<div class="abs" style="left:1320.5px;top:765.7px"><svg width="22" height="19" viewBox="0 0 22 19"><path d="M1.8 17.2 V1.6 H19.4 V6" fill="none" stroke="#a2a5ae" stroke-width="2.2"/><path d="M1 1.6 H20.2" stroke="#a2a5ae" stroke-width="3.2"/><path d="M1.8 16.6 H8.6" stroke="#a2a5ae" stroke-width="2.2"/><circle cx="13.6" cy="11.6" r="3.4" fill="none" stroke="#a2a5ae" stroke-width="2.2"/><path d="M16.2 14.2 L18.8 16.8" stroke="#a2a5ae" stroke-width="2.4" stroke-linecap="round"/></svg></div>
<div class="abs" style="left:1352.5px;top:761.7px;width:1.6px;height:26px;background:#c8cbd2"></div>
<div class="t" style="left:1365px;top:766.7px;font-size:19.4px;color:#41444e;">7</div>
<div class="abs" style="left:1364.5px;top:788.8px;width:11px;height:1.6px;background:repeating-linear-gradient(90deg,#5a5d67 0 2.6px,transparent 2.6px 4.2px)"></div>
<div class="t" style="right:81px;top:765.9px;font-size:19.4px;">1 month</div>
<div class="abs" style="left:1525px;top:764.7px"><svg width="20" height="21" viewBox="0 0 20 21"><path d="M14.9 15.6 A7.9 7.9 0 1 1 16.6 6.4" fill="none" stroke="#0062c8" stroke-width="2.4" stroke-linecap="round"/><path d="M18.5 1.3 V7.5 H12.2" fill="none" stroke="#0062c8" stroke-width="2.4" stroke-linecap="round" stroke-linejoin="round"/></svg></div>
<div class="abs" style="left:306px;top:860px;width:1265px;height:2px;background:#e5e7ec"></div>
<div class="abs" style="left:332.2px;top:822.3px;width:20.8px;height:20.8px;border:1.6px solid #b7bbc4;border-radius:4.5px;background:#fff"></div>
<div class="abs" style="left:373.6px;top:821.3px"><svg width="22" height="22" viewBox="0 0 22 22"><circle cx="11" cy="11" r="9.2" fill="none" stroke="#979aa5" stroke-width="2.2"/><path d="M11 6 V16 M6 11 H16" fill="none" stroke="#979aa5" stroke-width="2.2" stroke-linecap="round"/></svg></div>
<div class="t" style="left:400.5px;top:823.6px;font-size:19.4px;color:#006dca;">how to use email marketing<span style="display:inline-block;margin-left:6.5px;vertical-align:-1px"><svg width="18" height="16" viewBox="0 0 18 16"><rect x="1" y="1" width="15" height="13.6" rx="0.6" fill="none" stroke="#9ea1ab" stroke-width="2"/><path d="M1 7.2 H16" stroke="#9ea1ab" stroke-width="2"/><rect x="12" y="3" width="2" height="2.6" fill="#9ea1ab"/></svg></span></div>
<div class="abs" style="left:804px;top:821.4px;width:21px;height:21px;border-radius:3px;background:#c6e3fa"></div>
<div class="abs" style="left:813.4px;top:826.3px;width:2.5px;height:10.8px;background:#0058bf"></div>
<div class="t" style="right:591px;top:823.6px;font-size:19.4px;">390</div>
<div class="t" style="right:513px;top:823.6px;font-size:19.4px;">54</div>
<div class="abs" style="left:1097.8px;top:824.9px;width:16px;height:16px;border-radius:50%;background:#ff8c43"></div>
<div class="t" style="right:375px;top:823.6px;font-size:19.4px;">0.00</div>
<div class="t" style="right:300px;top:823.6px;font-size:19.4px;">0.02</div>
<div class="t" style="left:1321px;top:824.4px;font-size:19.4px;color:#41444e;">7</div>
<div class="abs" style="left:1320.5px;top:846.5px;width:11px;height:1.6px;background:repeating-linear-gradient(90deg,#5a5d67 0 2.6px,transparent 2.6px 4.2px)"></div>
<div class="t" style="right:81px;top:823.6px;font-size:19.4px;">1 month</div>
<div class="abs" style="left:1525px;top:822.4px"><svg width="20" height="21" viewBox="0 0 20 21"><path d="M14.9 15.6 A7.9 7.9 0 1 1 16.6 6.4" fill="none" stroke="#0062c8" stroke-width="2.4" stroke-linecap="round"/><path d="M18.5 1.3 V7.5 H12.2" fill="none" stroke="#0062c8" stroke-width="2.4" stroke-linecap="round" stroke-linejoin="round"/></svg></div>
<div class="abs" style="left:306px;top:918px;width:1265px;height:2px;background:#e5e7ec"></div>
<div class="abs" style="left:332.2px;top:880.0px;width:20.8px;height:20.8px;border:1.6px solid #b7bbc4;border-radius:4.5px;background:#fff"></div>
<div class="abs" style="left:373.6px;top:879.0px"><svg width="22" height="22" viewBox="0 0 22 22"><circle cx="11" cy="11" r="9.2" fill="none" stroke="#979aa5" stroke-width="2.2"/><path d="M11 6 V16 M6 11 H16" fill="none" stroke="#979aa5" stroke-width="2.2" stroke-linecap="round"/></svg></div>
<div class="t" style="left:400.5px;top:881.3px;font-size:19.4px;color:#006dca;">what is a good click rate for email</div>
<div class="abs" style="left:804px;top:879.1px;width:21px;height:21px;border-radius:3px;background:#c6e3fa"></div>
<div class="abs" style="left:813.4px;top:884.0px;width:2.5px;height:10.8px;background:#0058bf"></div>
<div class="t" style="right:591px;top:881.3px;font-size:19.4px;">390</div>
<div class="t" style="right:513px;top:881.3px;font-size:19.4px;">29</div>
<div class="abs" style="left:1097.8px;top:882.6px;width:16px;height:16px;border-radius:50%;background:#59ddaa"></div>
<div class="t" style="right:375px;top:881.3px;font-size:19.4px;">2.20</div>
<div class="t" style="right:300px;top:881.3px;font-size:19.4px;">0.36</div>
<div class="abs" style="left:1320.5px;top:881.1px"><svg width="22" height="19" viewBox="0 0 22 19"><path d="M1.8 17.2 V1.6 H19.4 V6" fill="none" stroke="#a2a5ae" stroke-width="2.2"/><path d="M1 1.6 H20.2" stroke="#a2a5ae" stroke-width="3.2"/><path d="M1.8 16.6 H8.6" stroke="#a2a5ae" stroke-width="2.2"/><circle cx="13.6" cy="11.6" r="3.4" fill="none" stroke="#a2a5ae" stroke-width="2.2"/><path d="M16.2 14.2 L18.8 16.8" stroke="#a2a5ae" stroke-width="2.4" stroke-linecap="round"/></svg></div>
<div class="abs" style="left:1352.5px;top:877.1px;width:1.6px;height:26px;background:#c8cbd2"></div>
<div class="t" style="left:1365px;top:882.1px;font-size:19.4px;color:#41444e;">7</div>
<div class="abs" style="left:1364.5px;top:904.2px;width:11px;height:1.6px;background:repeating-linear-gradient(90deg,#5a5d67 0 2.6px,transparent 2.6px 4.2px)"></div>
<div class="t" style="right:81px;top:881.3px;font-size:19.4px;">3 weeks</div>
<div class="abs" style="left:1525px;top:880.1px"><svg width="20" height="21" viewBox="0 0 20 21"><path d="M14.9 15.6 A7.9 7.9 0 1 1 16.6 6.4" fill="none" stroke="#0062c8" stroke-width="2.4" stroke-linecap="round"/><path d="M18.5 1.3 V7.5 H12.2" fill="none" stroke="#0062c8" stroke-width="2.4" stroke-linecap="round" stroke-linejoin="round"/></svg></div>
<div class="abs" style="left:0;top:846px;width:1600px;height:76px;background:linear-gradient(180deg,rgba(255,255,255,0) 0px,rgba(255,255,255,0.15) 6px,rgba(255,255,255,0.5) 29px,rgba(255,255,255,0.68) 54px,rgba(255,255,255,0.75) 61px,#fff 62px)"></div>
</body></html>
